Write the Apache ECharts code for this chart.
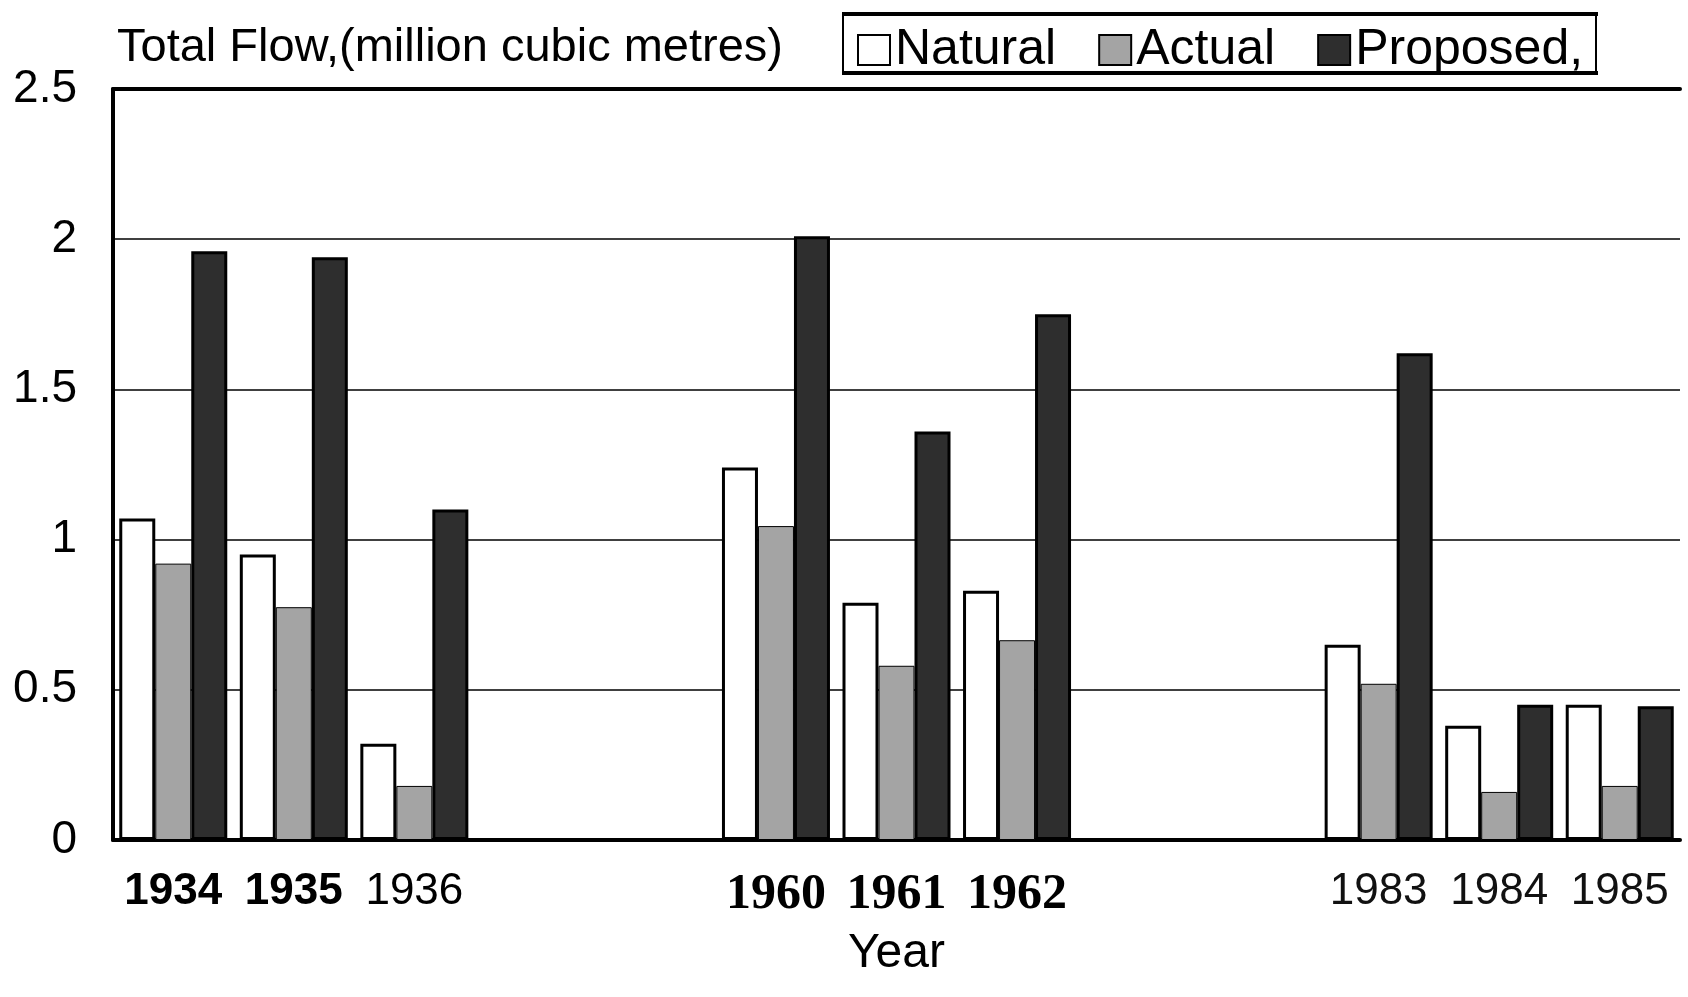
<!DOCTYPE html>
<html>
<head>
<meta charset="utf-8">
<script src="https://cdn.jsdelivr.net/npm/echarts@6/dist/echarts.min.js"></script>
<style>html,body{margin:0;padding:0;background:#fff}#c{width:1688px;height:997px}</style>
</head>
<body>
<div id="c"></div>
<script>
// ---- data ----
var categories = ['1934', '1935', '1936', ' ', '  ', '1960', '1961', '1962', '   ', '    ', '1983', '1984', '1985'];
var natural  = [1.07, 0.95, 0.32, null, null, 1.24, 0.79, 0.83, null, null, 0.65, 0.38, 0.45];
var actual   = [0.92, 0.775, 0.18, null, null, 1.045, 0.58, 0.665, null, null, 0.52, 0.16, 0.18];
var proposed = [1.96, 1.94, 1.10, null, null, 2.01, 1.36, 1.75, null, null, 1.62, 0.45, 0.445];
var seriesNames = ['Natural', 'Actual', 'Proposed,'];
var yTicks = { min: 0, max: 2.5, interval: 0.5 };
var titleText = 'Total Flow,(million cubic metres)';
var xName = 'Year';

var chart = echarts.init(document.getElementById('c'));
var font = 'Liberation Sans, Arial, sans-serif';

function labelStyle(v) {
  if (v === '1934' || v === '1935') return '{b|' + v + '}';
  if (v === '1960' || v === '1961' || v === '1962') return '{s|' + v + '}';
  if (v === '1936') return '{n|' + v + '}';
  return '{l|' + v + '}';
}

chart.setOption({
  animation: false,
  backgroundColor: '#fff',
  title: {
    text: titleText,
    left: 112, top: 20,
    textStyle: { fontFamily: font, fontSize: 47, fontWeight: 'normal', color: '#000' }
  },
  legend: {
    data: seriesNames,
    left: 852, top: 20,
    itemWidth: 32, itemHeight: 30, itemGap: 42,
    icon: 'rect',
    textStyle: { fontFamily: font, fontSize: 50, color: '#000' }
  },
  grid: { left: 113, right: 8, top: 89, bottom: 157 },
  xAxis: [{
    type: 'category',
    data: categories,
    name: xName,
    nameLocation: 'middle',
    nameGap: 90,
    nameTextStyle: { fontFamily: font, fontSize: 48, color: '#000' },
    axisLine: { show: true, lineStyle: { color: '#000', width: 4 } },
    axisTick: { show: false },
    axisLabel: {
      interval: 0, margin: 30,
      formatter: labelStyle,
      rich: {
        b: { fontFamily: font, fontSize: 44, fontWeight: 'bold', color: '#000' },
        n: { fontFamily: font, fontSize: 44, color: '#000' },
        l: { fontFamily: font, fontSize: 44, color: '#111' },
        s: { fontFamily: 'Liberation Serif, serif', fontSize: 50, fontWeight: 'bold', color: '#000' }
      }
    }
  }, {
    type: 'category',
    data: categories,
    position: 'top',
    axisLine: { show: true, lineStyle: { color: '#000', width: 4 } },
    axisTick: { show: false },
    axisLabel: { show: false }
  }],
  yAxis: {
    type: 'value',
    min: yTicks.min, max: yTicks.max, interval: yTicks.interval,
    axisLine: { show: true, lineStyle: { color: '#000', width: 4 } },
    axisTick: { show: false },
    axisLabel: { fontFamily: font, fontSize: 46, color: '#000', margin: 36 },
    splitLine: { show: true, lineStyle: { color: '#000', width: 1.5 } }
  },
  series: [{
    name: seriesNames[0], type: 'bar', data: natural,
    barWidth: 36, barGap: '0%',
    itemStyle: { color: '#fff', borderColor: '#000', borderWidth: 3 }
  }, {
    name: seriesNames[1], type: 'bar', data: actual,
    barWidth: 36, barGap: '0%',
    itemStyle: { color: '#a4a4a4', borderColor: '#000', borderWidth: 1 }
  }, {
    name: seriesNames[2], type: 'bar', data: proposed,
    barWidth: 36, barGap: '0%',
    itemStyle: { color: '#2e2e2e', borderColor: '#000', borderWidth: 3 }
  }],
  graphic: [
    { type: 'line', shape: { x1: 842, y1: 14, x2: 1598, y2: 14 }, style: { stroke: '#000', lineWidth: 4 } },
    { type: 'line', shape: { x1: 842, y1: 73, x2: 1598, y2: 73 }, style: { stroke: '#000', lineWidth: 4 } },
    { type: 'line', shape: { x1: 843, y1: 14, x2: 843, y2: 73 }, style: { stroke: '#000', lineWidth: 2 } },
    { type: 'line', shape: { x1: 1596, y1: 14, x2: 1596, y2: 73 }, style: { stroke: '#000', lineWidth: 2 } }
  ]
});
</script>
</body>
</html>
